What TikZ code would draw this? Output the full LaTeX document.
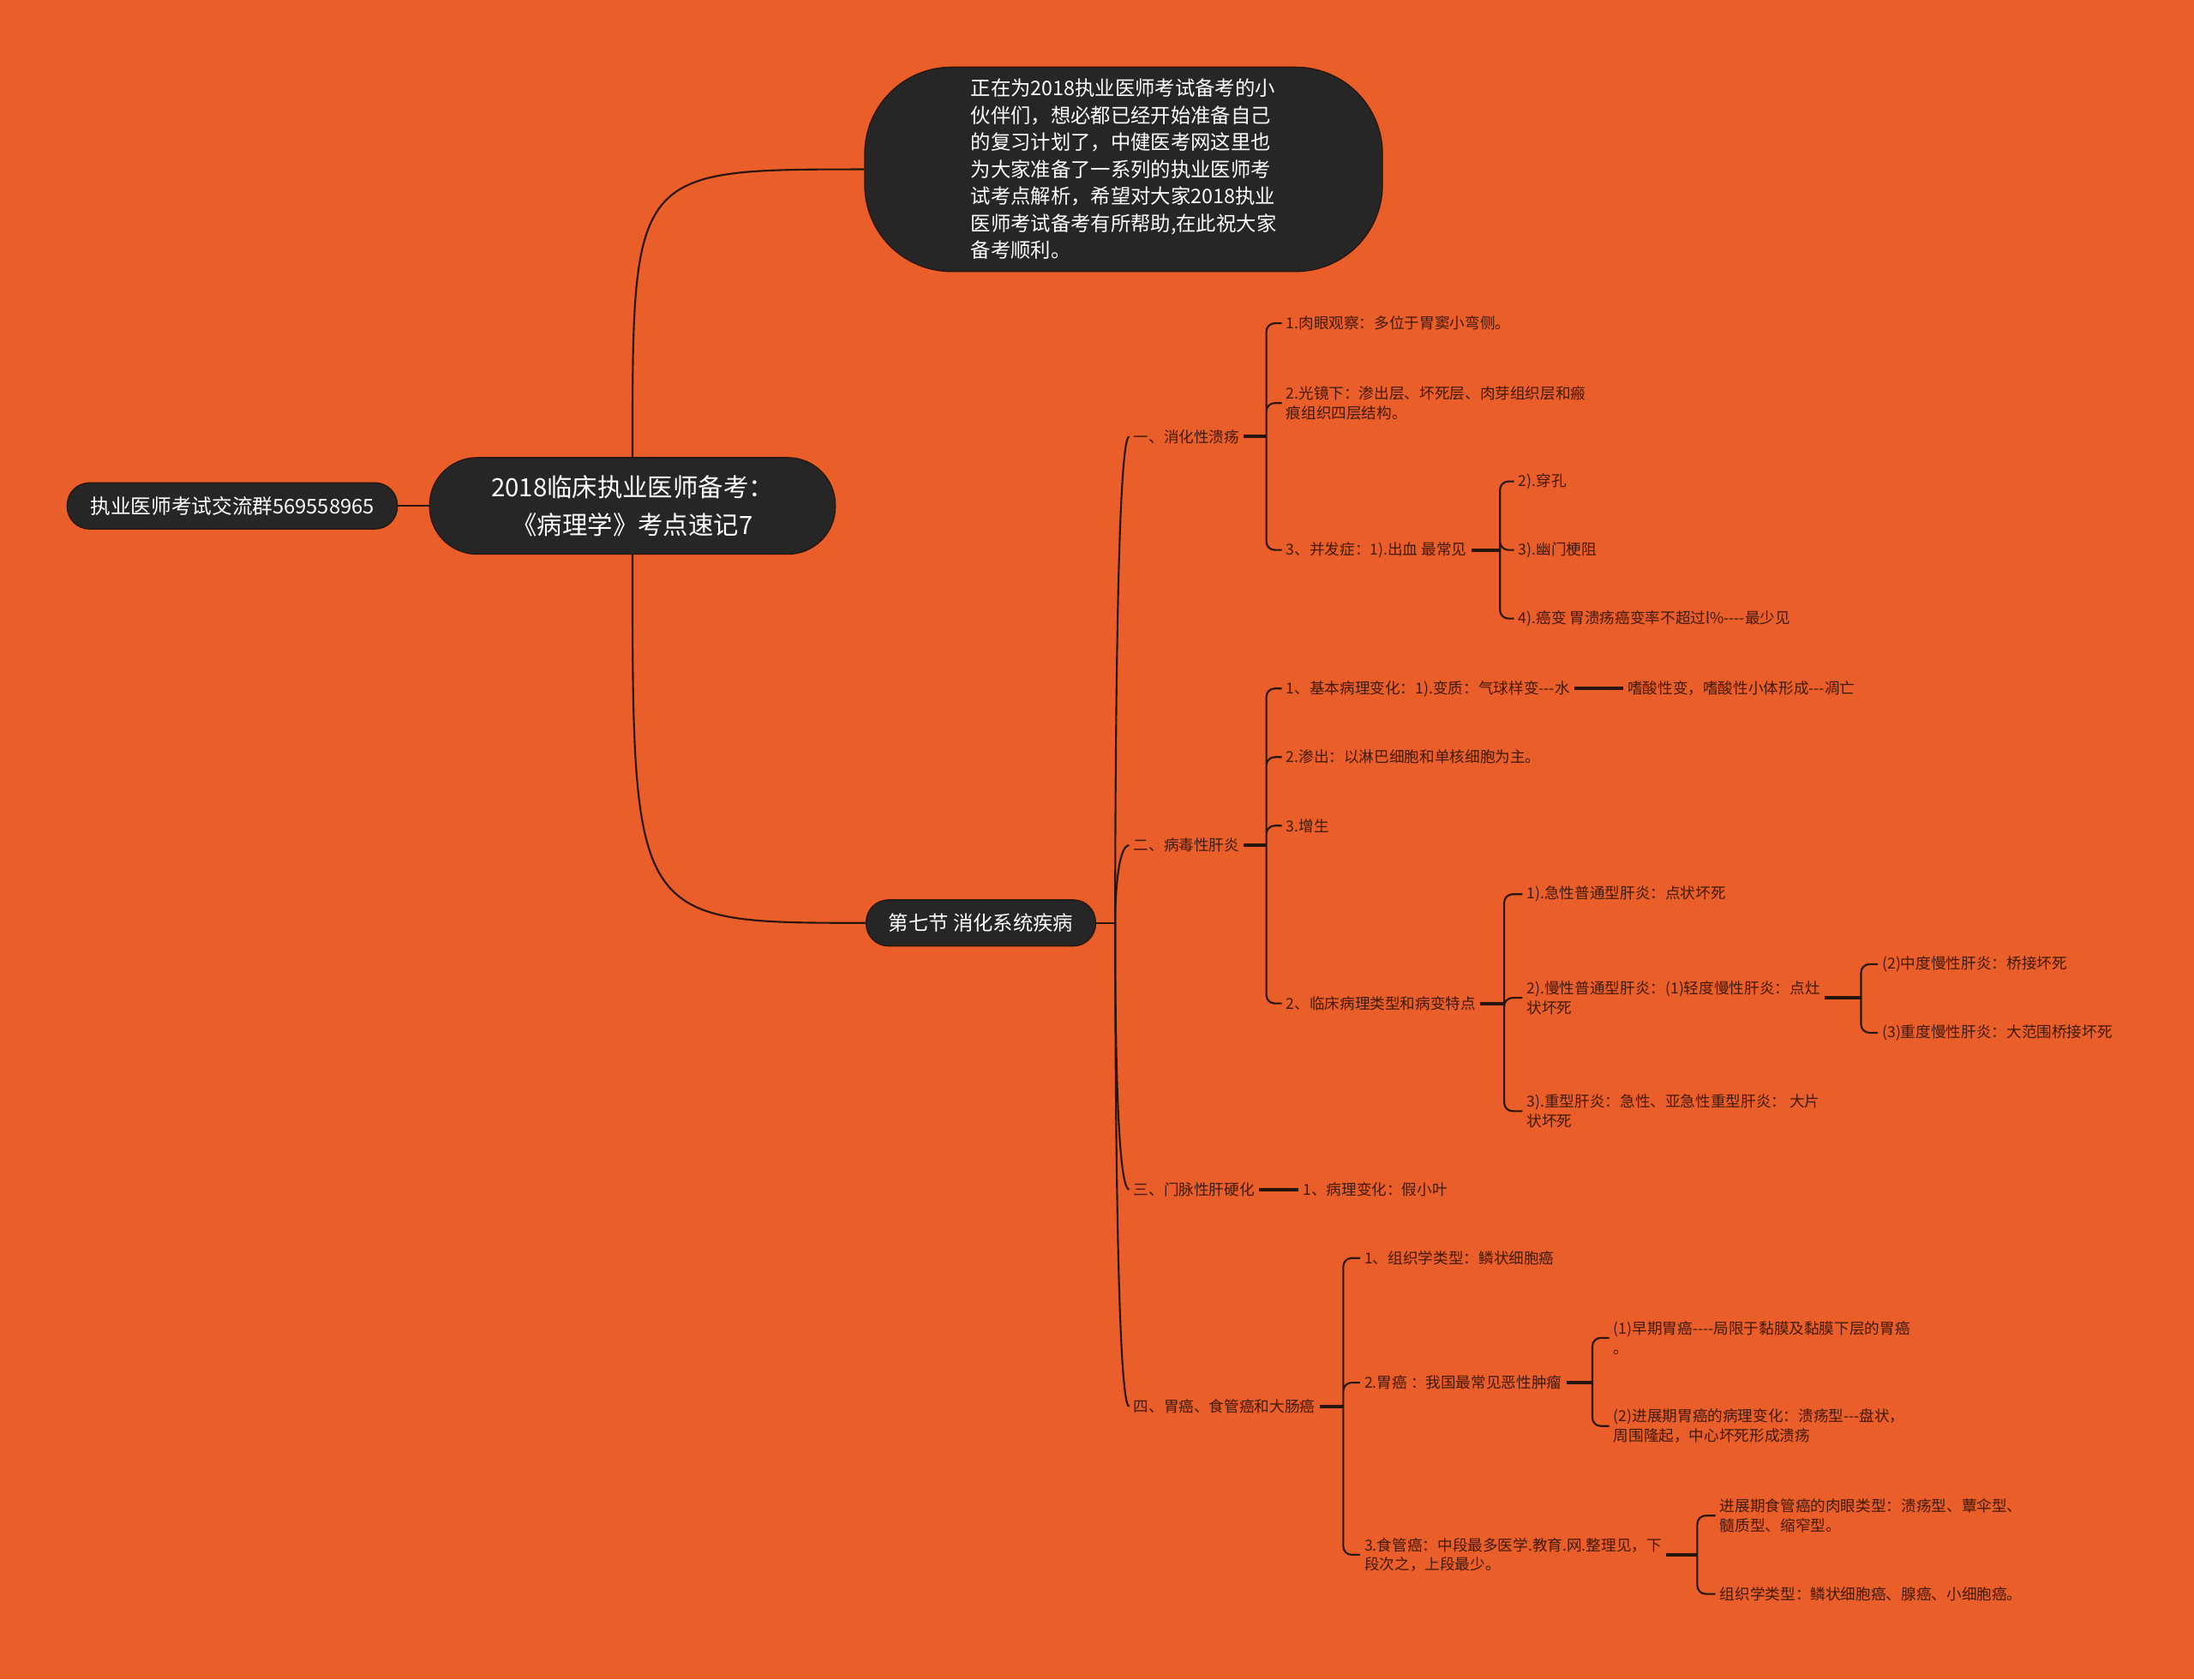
\documentclass[tikz,border=0pt]{standalone}
\usepackage{fontspec}
\setmainfont{Noto Sans CJK SC}
\definecolor{bgorange}{RGB}{233,94,41}
\definecolor{boxdark}{RGB}{38,38,38}
\definecolor{linedark}{RGB}{40,22,12}
\definecolor{txtbrown}{RGB}{66,26,8}

\begin{document}
\begin{tikzpicture}[x=1pt,y=-1pt,
darkbox/.style={fill=boxdark,draw=linedark,line width=0.8pt,text=white,inner sep=0pt},
leaf/.style={anchor=west,text=txtbrown,align=left,inner sep=3pt,
font=\fontsize{10.8}{14}\selectfont},
link/.style={draw=linedark,line width=1.3pt,rounded corners=6pt},
stub/.style={draw=linedark,line width=2.4pt}]
\fill[bgorange] (0,0) rectangle (1568,1200);
\useasboundingbox (0,0) rectangle (1568,1200);

% central topic, group note, intro note, section
\node[darkbox,minimum width=290pt,minimum height=69pt,rounded corners=34pt,
align=center,font=\fontsize{18}{27}\selectfont] (root) at (452,361.5)
{2018临床执业医师备考：\\《病理学》考点速记7};
\node[darkbox,minimum width=236pt,minimum height=33pt,rounded corners=16pt,
font=\fontsize{14.5}{18}\selectfont] (group) at (166,361.5) {执业医师考试交流群569558965};
\node[darkbox,minimum width=370pt,minimum height=146pt,rounded corners=62pt,
align=left,font=\fontsize{14.3}{19.3}\selectfont] (intro) at (803,121)
{正在为2018执业医师考试备考的小\\伙伴们，想必都已经开始准备自己\\的复习计划了，中健医考网这里也\\为大家准备了一系列的执业医师考\\试考点解析，希望对大家2018执业\\医师考试备考有所帮助,在此祝大家\\备考顺利。};
\node[darkbox,minimum width=164pt,minimum height=33pt,rounded corners=16pt,
font=\fontsize{14.3}{18}\selectfont] (sec) at (701,659.5) {第七节 消化系统疾病};

\draw[link] (group.east) -- (root.west);
\draw[link] (root.north) .. controls (root.north |- intro.west) .. (intro.west);
\draw[link] (root.south) .. controls (root.south |- sec.west) .. (sec.west);

% first level
\node[leaf] (n1) at (807,312) {一、消化性溃疡};
\node[leaf] (n2) at (807,604) {二、病毒性肝炎};
\node[leaf] (n3) at (807,850) {三、门脉性肝硬化};
\node[leaf] (n4) at (807,1005) {四、胃癌、食管癌和大肠癌};

\coordinate (j0) at (797,659.5);
\draw[link] (sec.east) -- (j0);
\draw[link] (j0) .. controls +(0,-40) and +(-10,0) .. (n1.west);
\draw[link] (j0) .. controls +(0,-20) and +(-8,0) .. (n2.west);
\draw[link] (j0) .. controls +(0,40) and +(-10,0) .. (n3.west);
\draw[link] (j0) .. controls +(0,40) and +(-10,0) .. (n4.west);

% 一、消化性溃疡
\node[leaf] (n11) at (916,231) {1.肉眼观察：多位于胃窦小弯侧。};
\node[leaf] (n12) at (916,288) {2.光镜下：渗出层、坏死层、肉芽组织层和瘢\\痕组织四层结构。};
\node[leaf] (n13) at (916,393) {3、并发症：1).出血 最常见};
\node[leaf] (n131) at (1082,344) {2).穿孔};
\node[leaf] (n132) at (1082,393) {3).幽门梗阻};
\node[leaf] (n133) at (1082,442) {4).癌变 胃溃疡癌变率不超过l\%-{}-{}-{}-最少见};

\coordinate (b1) at (905,312);
\draw[stub] (n1.east) -- (b1);
\draw[link] (b1) |- (n11.west) (b1) |- (n12.west) (b1) |- (n13.west);
\coordinate (b13) at (1072,393);
\draw[stub] (n13.east) -- (b13);
\draw[link] (b13) |- (n131.west) (b13) |- (n132.west) (b13) |- (n133.west);

% 二、病毒性肝炎
\node[leaf] (n21) at (916,492) {1、基本病理变化：1).变质：气球样变-{}-{}-水};
\node[leaf] (n211) at (1160,492) {嗜酸性变，嗜酸性小体形成-{}-{}-凋亡};
\node[leaf] (n22) at (916,541) {2.渗出：以淋巴细胞和单核细胞为主。};
\node[leaf] (n23) at (916,590) {3.增生};
\node[leaf] (n24) at (916,717) {2、临床病理类型和病变特点};
\node[leaf] (n241) at (1088,639) {1).急性普通型肝炎：点状坏死};
\node[leaf] (n242) at (1088,713) {2).慢性普通型肝炎：(1)轻度慢性肝炎：点灶\\状坏死};
\node[leaf] (n2421) at (1342,689) {(2)中度慢性肝炎：桥接坏死};
\node[leaf] (n2422) at (1342,738) {(3)重度慢性肝炎：大范围桥接坏死};
\node[leaf] (n243) at (1088,794) {3).重型肝炎：急性、亚急性重型肝炎： 大片\\状坏死};

\draw[stub] (n21.east) -- (n211.west);
\coordinate (b2) at (905,604);
\draw[stub] (n2.east) -- (b2);
\draw[link] (b2) |- (n21.west) (b2) |- (n22.west) (b2) |- (n23.west) (b2) |- (n24.west);
\coordinate (b24) at (1075,717);
\draw[stub] (n24.east) -- (b24);
\draw[link] (b24) |- (n241.west) (b24) |- (n242.west) (b24) |- (n243.west);
\coordinate (b242) at (1330,713);
\draw[stub] (n242.east) -- (b242);
\draw[link] (b242) |- (n2421.west) (b242) |- (n2422.west);

% 三、门脉性肝硬化
\node[leaf] (n31) at (928,850) {1、病理变化：假小叶};
\draw[stub] (n3.east) -- (n31.west);

% 四、胃癌、食管癌和大肠癌
\node[leaf] (n41) at (972,899) {1、组织学类型：鳞状细胞癌};
\node[leaf] (n42) at (972,988) {2.胃癌 ：我国最常见恶性肿瘤};
\node[leaf] (n421) at (1150,956) {(1)早期胃癌-{}-{}-{}-局限于黏膜及黏膜下层的胃癌\\。};
\node[leaf] (n422) at (1150,1019) {(2)进展期胃癌的病理变化：溃疡型-{}-{}-盘状，\\周围隆起，中心坏死形成溃疡};
\node[leaf] (n43) at (972,1111) {3.食管癌：中段最多医学.教育.网.整理见，下\\段次之，上段最少。};
\node[leaf] (n431) at (1226,1083) {进展期食管癌的肉眼类型：溃疡型、蕈伞型、\\髓质型、缩窄型。};
\node[leaf] (n432) at (1226,1139) {组织学类型：鳞状细胞癌、腺癌、小细胞癌。};

\coordinate (b4) at (960,1005);
\draw[stub] (n4.east) -- (b4);
\draw[link] (b4) |- (n41.west) (b4) |- (n42.west) (b4) |- (n43.west);
\coordinate (b42) at (1138,988);
\draw[stub] (n42.east) -- (b42);
\draw[link] (b42) |- (n421.west) (b42) |- (n422.west);
\coordinate (b43) at (1213,1111);
\draw[stub] (n43.east) -- (b43);
\draw[link] (b43) |- (n431.west) (b43) |- (n432.west);
\end{tikzpicture}
\end{document}
